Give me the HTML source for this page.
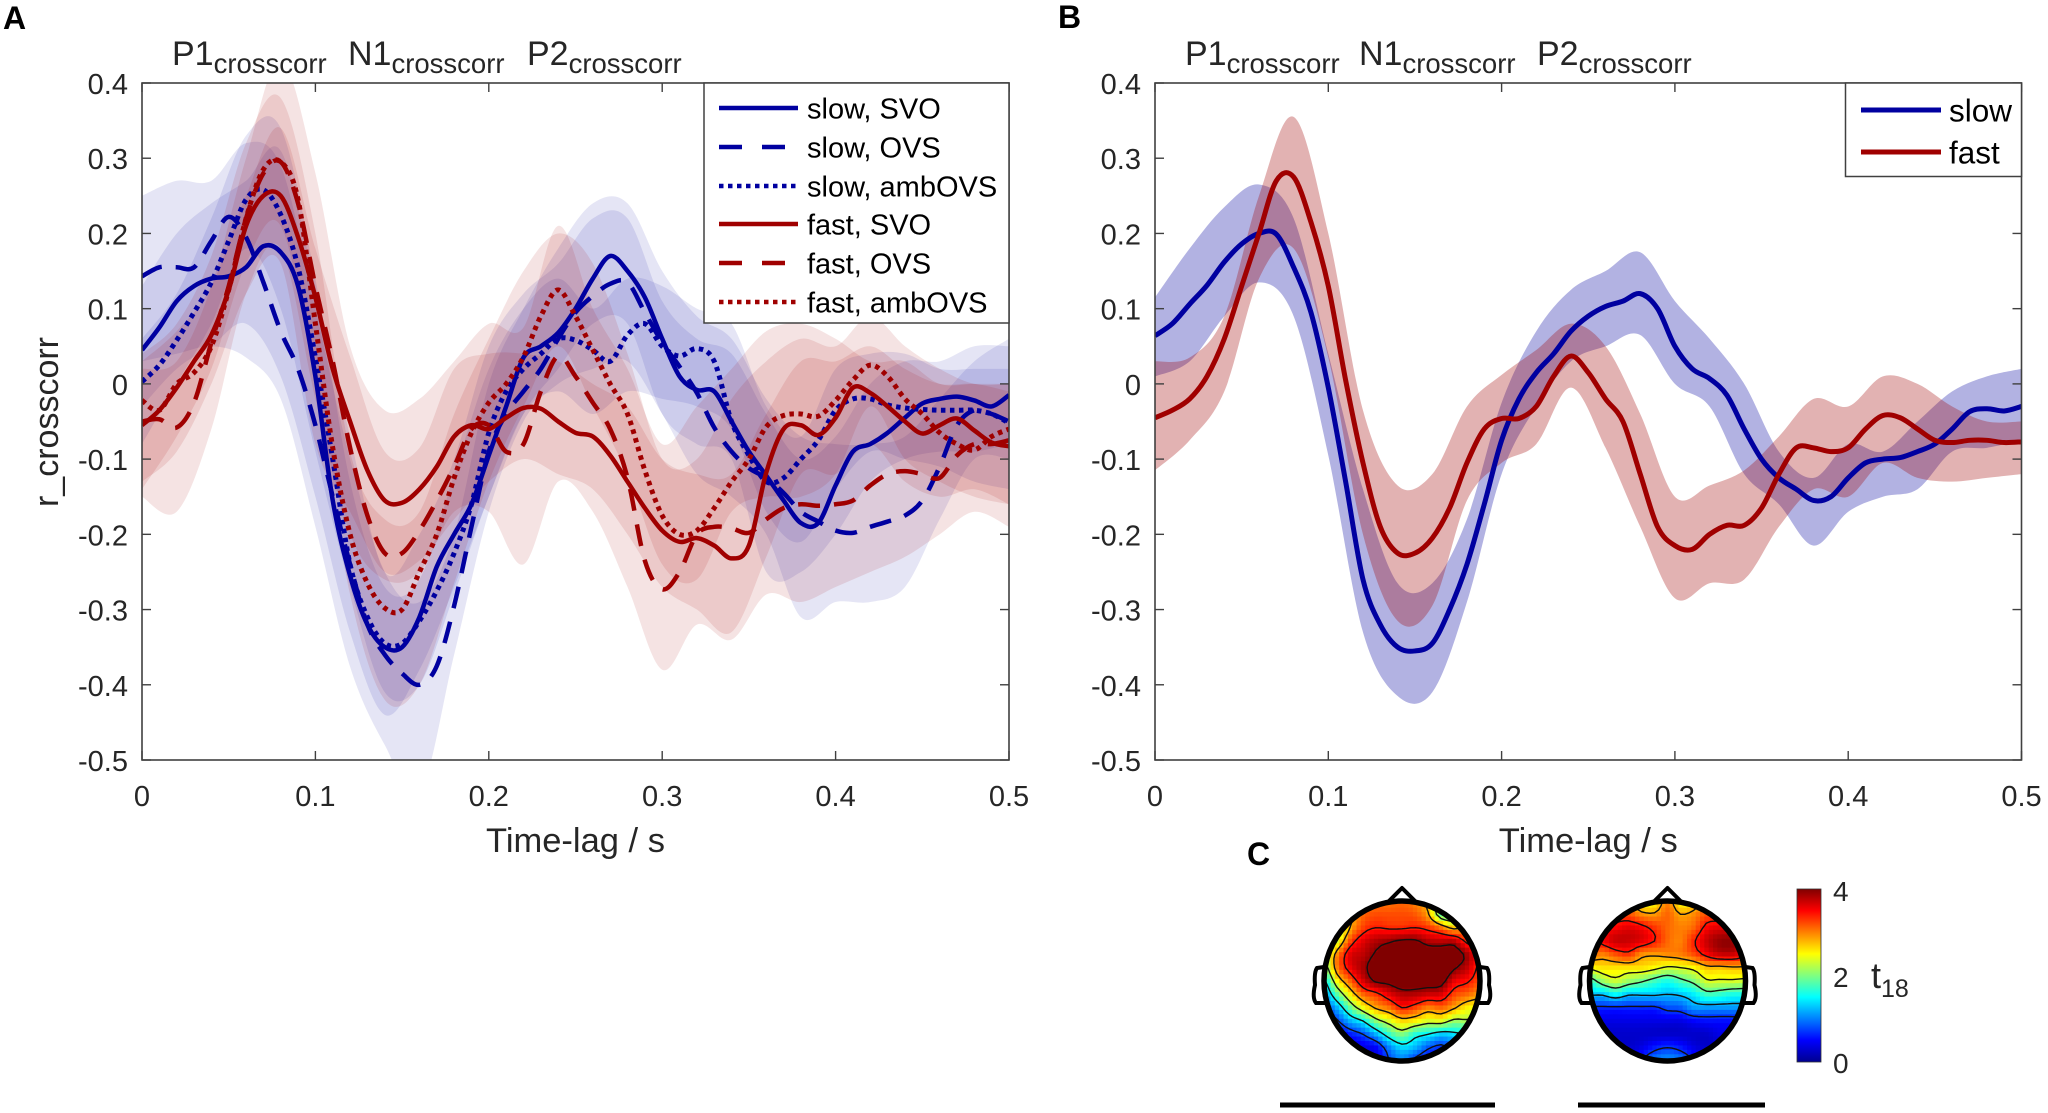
<!DOCTYPE html>
<html lang="en">
<head>
<meta charset="utf-8">
<title>Cross-correlation by speech rate and word order</title>
<style>
html,body{margin:0;padding:0;background:#fff;width:2048px;height:1113px;overflow:hidden}
svg{display:block}
text{font-family:"Liberation Sans",sans-serif;fill:#262626}
</style>
</head>
<body>
<svg id="figure" xmlns="http://www.w3.org/2000/svg" width="2048" height="1113" viewBox="0 0 2048 1113">
<defs>
<clipPath id="clipA"><rect x="142" y="83" width="867" height="677"/></clipPath>
<clipPath id="clipB"><rect x="1155" y="83" width="866.5" height="677"/></clipPath>
<clipPath id="clipHead1"><ellipse cx="1402" cy="981" rx="78" ry="80"/></clipPath>
<clipPath id="clipHead2"><ellipse cx="1667.5" cy="981" rx="78" ry="80"/></clipPath>
<linearGradient id="jet" x1="0" y1="1" x2="0" y2="0">
<stop offset="0" stop-color="#00008f"/><stop offset="0.125" stop-color="#0000ff"/><stop offset="0.375" stop-color="#00ffff"/><stop offset="0.625" stop-color="#ffff00"/><stop offset="0.875" stop-color="#ff0000"/><stop offset="1" stop-color="#800000"/>
</linearGradient>
</defs>
<text x="3" y="29" font-size="32" font-weight="bold" style="fill:#000">A</text>
<text x="1058" y="28" font-size="32" font-weight="bold" style="fill:#000">B</text>
<text x="1247" y="865" font-size="32" font-weight="bold" style="fill:#000">C</text>
<g id="panelA"></g>
<g id="panelB"></g>
<g id="panelC">
<g id="head1"></g>
<g id="head2"></g>
<rect x="1797" y="889" width="24" height="173" fill="url(#jet)" stroke="#333" stroke-width="0.8"/>
<text x="1833" y="901" font-size="28">4</text>
<text x="1833" y="987" font-size="28">2</text>
<text x="1833" y="1073" font-size="28">0</text>
<text x="1871" y="988" font-size="36">t<tspan font-size="25" dy="9">18</tspan></text>
<rect x="1280" y="1102.5" width="215" height="5" fill="#000"/>
<rect x="1578" y="1102.5" width="187" height="5" fill="#000"/>
</g>
</svg>
<script>
// Shared axis labels
const yTickValues = [0.4, 0.3, 0.2, 0.1, 0, -0.1, -0.2, -0.3, -0.4, -0.5];
const yTickLabels = ['0.4', '0.3', '0.2', '0.1', '0', '-0.1', '-0.2', '-0.3', '-0.4', '-0.5'];
const xTickValues = [0, 0.1, 0.2, 0.3, 0.4, 0.5];
const xTickLabels = ['0', '0.1', '0.2', '0.3', '0.4', '0.5'];
const lineLagStep = 0.01;
const bandLagStep = 0.02;

// Panel A means (one value every 10 ms)
const slowSvoMean = [.045,.075,.11,.13,.14,.143,.155,.183,.175,.13,.01,-.155,-.255,-.32,-.35,-.35,-.31,-.243,-.20,-.16,-.095,-.03,.035,.05,.068,.10,.14,.17,.15,.115,.06,.01,-.008,-.01,-.05,-.09,-.122,-.155,-.185,-.185,-.135,-.09,-.08,-.065,-.045,-.026,-.02,-.017,-.022,-.03,-.015];
const slowOvsMean = [.143,.155,.155,.155,.19,.222,.195,.135,.07,.02,-.055,-.15,-.24,-.32,-.36,-.385,-.40,-.375,-.295,-.19,-.09,-.04,-.01,.02,.06,.095,.117,.133,.135,.095,.055,.023,-.012,-.058,-.09,-.112,-.125,-.145,-.17,-.183,-.195,-.198,-.19,-.183,-.175,-.155,-.11,-.055,-.035,-.04,-.05];
const slowAmbMean = [.003,.025,.058,.095,.135,.19,.245,.258,.225,.155,.035,-.10,-.24,-.31,-.345,-.345,-.315,-.275,-.225,-.16,-.065,-.01,.02,.04,.06,.058,.045,.03,.065,.08,.05,.037,.047,.03,-.05,-.095,-.13,-.125,-.10,-.075,-.035,-.02,-.02,-.028,-.032,-.034,-.035,-.035,-.035,-.04,-.052];
const fastSvoMean = [-.055,-.035,-.005,.03,.065,.125,.21,.25,.25,.195,.115,.02,-.05,-.115,-.155,-.158,-.14,-.11,-.07,-.055,-.06,-.045,-.032,-.033,-.05,-.065,-.07,-.095,-.13,-.165,-.195,-.21,-.205,-.215,-.232,-.215,-.118,-.06,-.055,-.068,-.045,-.005,-.012,-.03,-.05,-.066,-.055,-.046,-.062,-.078,-.083];
const fastOvsMean = [-.05,-.047,-.058,-.025,.055,.13,.22,.28,.295,.24,.13,.03,-.085,-.175,-.225,-.225,-.195,-.155,-.11,-.06,-.055,-.09,-.08,-.01,.037,.01,-.025,-.06,-.125,-.235,-.273,-.25,-.20,-.19,-.192,-.198,-.18,-.165,-.16,-.162,-.16,-.155,-.135,-.12,-.116,-.12,-.125,-.095,-.08,-.08,-.075];
const fastAmbMean = [-.022,-.035,0,.015,.05,.125,.22,.285,.295,.245,.08,-.085,-.20,-.265,-.298,-.30,-.25,-.20,-.125,-.065,-.025,0,.036,.09,.125,.09,.045,0,-.04,-.115,-.175,-.20,-.195,-.165,-.13,-.10,-.057,-.042,-.04,-.043,-.022,.005,.025,.01,-.02,-.04,-.065,-.08,-.088,-.07,-.06];

// Panel A error bands (one value every 20 ms)
const slowSvoUpper = [.13,.2,.24,.27,.31,.13,-.07,-.25,-.2,-.1,.05,.12,.16,.22,.22,.11,.06,.04,-.04,-.10,-.07,0,.03,.03,.05,.05];
const slowSvoLower = [-.03,.02,.05,.08,.01,-.15,-.33,-.44,-.38,-.27,-.15,-.04,.02,.08,.08,-.04,-.08,-.10,-.25,-.25,-.2,-.13,-.1,-.09,-.09,-.08];
const slowOvsUpper = [.25,.27,.27,.32,.29,.1,-.1,-.25,-.29,-.2,0,.1,.18,.24,.24,.15,.09,.06,-.02,-.07,-.08,-.08,-.07,-.02,.03,.06];
const slowOvsLower = [.03,.04,.05,.035,-.02,-.19,-.376,-.48,-.545,-.36,-.17,-.05,0,.02,.03,-.04,-.12,-.15,-.2,-.31,-.29,-.29,-.27,-.18,-.1,-.1];
const slowAmbUpper = [.06,.12,.22,.33,.34,.14,-.13,-.27,-.26,-.12,.02,.1,.14,.1,.14,.13,.1,.08,-.03,-.07,.02,.04,.04,.02,.02,.02];
const slowAmbLower = [-.08,0,.08,.18,.1,-.09,-.27,-.41,-.40,-.28,-.15,-.04,-.01,-.04,-.01,-.02,-.03,-.06,-.17,-.21,-.14,-.09,-.1,-.11,-.13,-.14];
const fastSvoUpper = [.03,.07,.13,.25,.34,.18,.036,-.09,-.085,.02,.04,.04,.03,0,-.03,-.1,-.12,-.12,-.04,.03,.03,.05,.02,0,0,-.01];
const fastSvoLower = [-.13,-.09,0,.12,.16,-.08,-.17,-.25,-.235,-.18,-.13,-.1,-.12,-.14,-.2,-.27,-.3,-.33,-.23,-.12,-.12,-.08,-.13,-.15,-.14,-.16];
const fastOvsUpper = [.02,.03,.13,.3,.43,.28,.05,-.035,-.02,.03,.08,.075,.21,.1,.02,-.08,-.03,.02,.07,.08,.06,.03,.03,0,0,0];
const fastOvsLower = [-.15,-.17,-.06,.12,.18,-.02,-.2,-.26,-.25,-.17,-.17,-.24,-.13,-.17,-.27,-.38,-.32,-.34,-.28,-.29,-.27,-.25,-.23,-.2,-.17,-.19];
const fastAmbUpper = [.04,.08,.17,.32,.38,.2,-.09,-.18,-.17,-.04,.06,.15,.2,.16,.04,-.1,-.1,-.02,.03,.06,.05,.09,.05,.02,0,0];
const fastAmbLower = [-.14,-.07,.02,.16,.21,0,-.28,-.42,-.40,-.265,-.13,-.03,.05,-.03,-.12,-.24,-.26,-.17,-.15,-.15,-.12,-.03,-.1,-.13,-.15,-.16];

// Panel B means (one value every 10 ms)
const slowMean = [.064,.08,.106,.131,.162,.186,.20,.199,.155,.095,-.005,-.13,-.26,-.32,-.35,-.355,-.345,-.30,-.24,-.16,-.075,-.02,.015,.04,.07,.09,.103,.11,.12,.10,.05,.02,.007,-.015,-.06,-.10,-.125,-.14,-.155,-.15,-.125,-.105,-.10,-.098,-.09,-.08,-.06,-.037,-.033,-.036,-.03];
const fastMean = [-.045,-.035,-.02,.01,.06,.13,.20,.27,.275,.215,.13,.005,-.105,-.19,-.225,-.225,-.205,-.165,-.105,-.06,-.046,-.046,-.03,.01,.037,.015,-.02,-.05,-.12,-.19,-.215,-.22,-.20,-.188,-.188,-.165,-.12,-.085,-.085,-.09,-.085,-.06,-.042,-.045,-.06,-.075,-.078,-.075,-.075,-.078,-.077];

// Panel B error bands (one value every 20 ms)
const slowUpper = [.115,.18,.235,.265,.22,.04,-.14,-.265,-.265,-.18,-.025,.07,.125,.15,.175,.11,.06,0,-.09,-.125,-.08,-.09,-.05,-.01,.01,.02];
const slowLower = [.01,.03,.09,.135,.09,-.095,-.33,-.415,-.41,-.29,-.12,-.03,.03,.05,.065,0,-.03,-.12,-.16,-.215,-.17,-.15,-.14,-.09,-.085,-.075];
const fastUpper = [.03,.035,.09,.25,.355,.2,-.035,-.135,-.12,-.03,.012,.045,.08,.05,-.04,-.15,-.135,-.115,-.07,-.02,-.03,.01,0,-.03,-.05,-.05];
const fastLower = [-.115,-.075,-.01,.14,.18,.035,-.2,-.315,-.295,-.155,-.105,-.08,-.005,-.085,-.19,-.285,-.265,-.26,-.19,-.14,-.15,-.105,-.125,-.13,-.125,-.12];

// Panel A / B legend labels
const legendLabelsA = ['slow, SVO', 'slow, OVS', 'slow, ambOVS', 'fast, SVO', 'fast, OVS', 'fast, ambOVS'];
const legendLabelsB = ['slow', 'fast'];

// Panel C: scalp t-values sampled on a regular 13 x 13 grid
const topoSlow = [
[1.5,1.8,2.9,3.0,3.05,3.05,3.1,3.0,2.7,1.8,1.6,1.8,2],
[1.5,1.8,2.7,3.1,3.2,3.2,3.2,3.15,2.85,1.9,1.7,2.0,2.2],
[1.6,2.0,2.8,3.25,3.4,3.35,3.35,3.4,3.3,3.05,2.7,2.9,2.8],
[1.8,2.35,3.2,3.6,3.8,3.9,4.0,4.0,3.8,3.75,3.75,3.3,3.1],
[2.1,2.95,3.6,3.75,4.0,4.2,4.3,4.3,4.2,4.2,4.15,3.85,3.4],
[1.95,3.0,3.55,3.85,4.15,4.3,4.4,4.4,4.35,4.3,4.0,3.75,3.3],
[1.4,2.5,3.1,3.65,4.0,4.05,4.2,4.15,4.15,4.1,3.6,3.45,3.2],
[1.1,1.85,2.55,3.1,3.3,3.6,3.8,3.8,3.7,3.65,3.25,3.1,2.9],
[.8,1.2,1.9,2.45,2.85,3.05,3.4,3.25,3.0,3.1,2.85,2.55,2.5],
[.5,.75,1.2,1.5,2.05,2.35,2.65,2.55,2.35,2.4,2.1,2.15,2.0],
[.3,.4,.6,.8,1.2,1.7,2.0,1.65,1.5,1.3,1.4,1.5,1.6],
[.2,.2,.3,.4,.5,1.0,1.35,1.2,.85,.7,.9,1.1,1.2],
[.2,.2,.2,.3,.4,.8,1.0,.7,.5,.5,.7,.9,1]
];
const topoFast = [
[3,3,3,3,2.5,2.5,3.0,2.5,2.6,3,3,3,3],
[3,3,3.2,3.2,2.95,2.9,3.1,2.85,2.95,3.2,3.2,3.1,3.1],
[3.2,3.4,3.5,3.6,3.5,3.3,3.1,3.0,3.1,3.5,3.6,3.6,3.4],
[3.3,3.5,3.7,3.7,3.6,3.4,3.1,3.0,3.35,3.7,3.9,3.9,3.5],
[3.1,3.0,3.2,3.3,2.95,2.9,2.95,3.0,3.2,3.5,3.7,3.7,3.5],
[2.5,2.6,2.6,2.6,2.6,2.5,2.35,2.4,2.5,2.75,2.75,2.8,2.8],
[1.7,2.1,2.3,2.1,1.95,1.75,1.6,1.8,2.0,2.35,2.35,2.35,2.3],
[1.3,1.3,1.5,1.3,1.3,1.3,1.25,1.3,1.45,1.75,1.7,1.6,1.6],
[.65,.65,.65,.65,.65,.65,.8,.85,1.1,1.1,1.1,1.1,1.1],
[.45,.4,.4,.4,.4,.4,.4,.4,.5,.55,.55,.55,.6],
[.3,.3,.3,.3,.3,.3,.3,.3,.3,.3,.4,.4,.5],
[.3,.3,.3,.3,.4,.6,.7,.6,.4,.3,.3,.3,.3],
[.3,.3,.3,.4,.7,1,1.1,1,.7,.4,.3,.3,.3]
];
const contourLevelsSlow = [0.8, 1.5, 2.2, 2.8, 3.4, 3.95];
const contourLevelsFast = [0.7, 1.25, 1.9, 2.4, 2.85, 3.4];

const SVGNS = 'http://www.w3.org/2000/svg';
const BLUE = '#0000a0';
const RED = '#a00000';
const DASH = '22 14';
const DOT = '4.5 4.5';

function make(parent, tag, attrs, text) {
  const el = document.createElementNS(SVGNS, tag);
  for (const k in attrs) el.setAttribute(k, attrs[k]);
  if (text !== undefined) el.textContent = text;
  parent.appendChild(el);
  return el;
}
function axisFns(left, right) {
  const top = 83, bottom = 760;
  return {
    left: left, right: right, top: top, bottom: bottom,
    x: function (t) { return left + (right - left) * t / 0.5; },
    y: function (v) { return top + (bottom - top) * (0.4 - v) / 0.9; }
  };
}
function smoothPath(pts, start) {
  let d = (start || 'M') + pts[0][0].toFixed(2) + ' ' + pts[0][1].toFixed(2);
  for (let i = 0; i < pts.length - 1; i++) {
    const p0 = pts[Math.max(i - 1, 0)], p1 = pts[i], p2 = pts[i + 1], p3 = pts[Math.min(i + 2, pts.length - 1)];
    const c1x = p1[0] + (p2[0] - p0[0]) / 6, c1y = p1[1] + (p2[1] - p0[1]) / 6;
    const c2x = p2[0] - (p3[0] - p1[0]) / 6, c2y = p2[1] - (p3[1] - p1[1]) / 6;
    d += 'C' + c1x.toFixed(2) + ' ' + c1y.toFixed(2) + ' ' + c2x.toFixed(2) + ' ' + c2y.toFixed(2) + ' ' + p2[0].toFixed(2) + ' ' + p2[1].toFixed(2);
  }
  return d;
}
function toPoints(values, step, ax) {
  return values.map(function (v, i) { return [ax.x(i * step), ax.y(v)]; });
}
function drawBand(parent, upper, lower, color, alpha, ax, name) {
  const up = toPoints(upper, bandLagStep, ax);
  const lo = toPoints(lower, bandLagStep, ax).reverse();
  const el = make(parent, 'path', { d: smoothPath(up) + smoothPath(lo, 'L') + 'Z', fill: color, 'fill-opacity': alpha, stroke: 'none' });
  
  
}
function drawLine(parent, values, color, width, dash, ax, name) {
  const attrs = { d: smoothPath(toPoints(values, lineLagStep, ax)), fill: 'none', stroke: color, 'stroke-width': width, 'stroke-linejoin': 'round' };
  if (dash) attrs['stroke-dasharray'] = dash;
  const el = make(parent, 'path', attrs);
  
  
}
function drawAxes(parent, ax, showYTitle, titleX) {
  const g = make(parent, 'g', {});
  
  
  const frame = make(g, 'rect', { x: ax.left, y: ax.top, width: ax.right - ax.left, height: ax.bottom - ax.top, fill: 'none', stroke: '#404040', 'stroke-width': 1.6 });
  
  
  xTickValues.forEach(function (v, i) {
    const x = ax.x(v);
    const t1 = make(g, 'line', { x1: x, x2: x, y1: ax.bottom, y2: ax.bottom - 9, stroke: '#404040', 'stroke-width': 1.4 });
    
    
    const t2 = make(g, 'line', { x1: x, x2: x, y1: ax.top, y2: ax.top + 9, stroke: '#404040', 'stroke-width': 1.4 });
    
    
    const lab = make(g, 'text', { x: x, y: 806, 'font-size': 29, 'text-anchor': 'middle' }, xTickLabels[i]);
    
    
  });
  yTickValues.forEach(function (v, i) {
    const y = ax.y(v);
    const t1 = make(g, 'line', { x1: ax.left, x2: ax.left + 9, y1: y, y2: y, stroke: '#404040', 'stroke-width': 1.4 });
    
    
    const t2 = make(g, 'line', { x1: ax.right, x2: ax.right - 9, y1: y, y2: y, stroke: '#404040', 'stroke-width': 1.4 });
    
    
    const lab = make(g, 'text', { x: ax.left - 14, y: y + 11, 'font-size': 29, 'text-anchor': 'end' }, yTickLabels[i]);
    
    
  });
  const xt = make(g, 'text', { x: (ax.left + ax.right) / 2, y: 852, 'font-size': 34.5, 'text-anchor': 'middle' }, 'Time-lag / s');
  
  
  if (showYTitle) {
    const yt = make(g, 'text', { x: 0, y: 0, 'font-size': 34, 'text-anchor': 'middle', transform: 'translate(58 422) rotate(-90)' }, 'r_crosscorr');
    
    
  }
  ['P1', 'N1', 'P2'].forEach(function (c, i) {
    const tx = make(g, 'text', { x: titleX[i], y: 65, 'font-size': 34 }, c);
    
    
    const sub = make(tx, 'tspan', { dy: 8, 'font-size': 27.5 }, 'crosscorr');
    
    
  });
}
function drawLegend(parent, box, rowsY, sampleX, textX, labels, colors, dashes, fontSize, width) {
  const g = make(parent, 'g', {});
  
  
  const bg = make(g, 'rect', { x: box[0], y: box[1], width: box[2], height: box[3], fill: '#fff', stroke: '#404040', 'stroke-width': 1.5 });
  
  
  labels.forEach(function (label, i) {
    const attrs = { x1: sampleX[0], x2: sampleX[1], y1: rowsY[i], y2: rowsY[i], stroke: colors[i], 'stroke-width': width };
    if (dashes[i]) attrs['stroke-dasharray'] = dashes[i];
    const ln = make(g, 'line', attrs);
    
    
    const tx = make(g, 'text', { x: textX, y: rowsY[i] + fontSize * 0.36, 'font-size': fontSize, style: 'fill:#000' }, label);
    
    
  });
}

// Panel A
(function () {
  const root = document.getElementById('panelA');
  const ax = axisFns(142, 1009);
  const plot = make(root, 'g', { 'clip-path': 'url(#clipA)' });
  
  
  drawBand(plot, slowOvsUpper, slowOvsLower, BLUE, 0.1, ax, 'band-slow-ovs');
  drawBand(plot, slowSvoUpper, slowSvoLower, BLUE, 0.1, ax, 'band-slow-svo');
  drawBand(plot, slowAmbUpper, slowAmbLower, BLUE, 0.1, ax, 'band-slow-ambovs');
  drawBand(plot, fastOvsUpper, fastOvsLower, RED, 0.11, ax, 'band-fast-ovs');
  drawBand(plot, fastSvoUpper, fastSvoLower, RED, 0.11, ax, 'band-fast-svo');
  drawBand(plot, fastAmbUpper, fastAmbLower, RED, 0.11, ax, 'band-fast-ambovs');
  drawLine(plot, slowOvsMean, BLUE, 4.5, DASH, ax, 'line-slow-ovs');
  drawLine(plot, slowAmbMean, BLUE, 5, DOT, ax, 'line-slow-ambovs');
  drawLine(plot, slowSvoMean, BLUE, 4.5, null, ax, 'line-slow-svo');
  drawLine(plot, fastOvsMean, RED, 4.5, DASH, ax, 'line-fast-ovs');
  drawLine(plot, fastAmbMean, RED, 5, DOT, ax, 'line-fast-ambovs');
  drawLine(plot, fastSvoMean, RED, 4.5, null, ax, 'line-fast-svo');
  drawAxes(root, ax, true, [172, 348, 527]);
  drawLegend(root, [704, 83, 305, 240], [108, 147, 186, 224, 263, 302], [719, 798], 807, legendLabelsA,
    [BLUE, BLUE, BLUE, RED, RED, RED], [null, '23 20', DOT, null, '23 20', DOT], 29, 4.5);
})();

// Panel B
(function () {
  const root = document.getElementById('panelB');
  const ax = axisFns(1155, 2021.5);
  const plot = make(root, 'g', { 'clip-path': 'url(#clipB)' });
  
  
  drawBand(plot, slowUpper, slowLower, BLUE, 0.3, ax, 'band-slow');
  drawBand(plot, fastUpper, fastLower, RED, 0.3, ax, 'band-fast');
  drawLine(plot, slowMean, BLUE, 5, null, ax, 'line-slow');
  drawLine(plot, fastMean, RED, 5, null, ax, 'line-fast');
  drawAxes(root, ax, false, [1185, 1359, 1537]);
  drawLegend(root, [1845.5, 83, 176, 93.5], [110, 152], [1861, 1941], 1949, legendLabelsB,
    [BLUE, RED], [null, null], 31.5, 5);
})();

// Panel C
function cubic(a, b, c, d, t) {
  return b + 0.5 * t * (c - a + t * (2 * a - 5 * b + 4 * c - d + t * (3 * (b - c) + d - a)));
}
function sampleGrid(grid, r, c) {
  const n = grid.length - 1;
  const cl = function (i) { return Math.max(0, Math.min(n, i)); };
  const r0 = Math.min(Math.floor(r), n), c0 = Math.min(Math.floor(c), n);
  const fr = r - r0, fc = c - c0;
  const rows = [-1, 0, 1, 2].map(function (dr) {
    const row = grid[cl(r0 + dr)];
    return cubic(row[cl(c0 - 1)], row[cl(c0)], row[cl(c0 + 1)], row[cl(c0 + 2)], fc);
  });
  return cubic(rows[0], rows[1], rows[2], rows[3], fr);
}
function jetColor(t) {
  const v = Math.max(0, Math.min(1, t / 4));
  const f = function (o) { return Math.round(255 * Math.max(0, Math.min(1, 1.5 - Math.abs(4 * v - o)))); };
  return 'rgb(' + f(3) + ',' + f(2) + ',' + f(1) + ')';
}
function drawHead(id, grid, levels, cx, clipId) {
  const root = document.getElementById(id);
  const rx = 78, ry = 80, cy = 981;
  const sub = 3, n = (grid.length - 1) * sub;
  const px = function (j) { return cx - rx + 2 * rx * j / n; };
  const py = function (i) { return cy - ry + 2 * ry * i / n; };
  const field = [];
  for (let i = 0; i <= n; i++) {
    const row = [];
    for (let j = 0; j <= n; j++) row.push(sampleGrid(grid, i / sub, j / sub));
    field.push(row);
  }
  const map = make(root, 'g', { 'clip-path': 'url(#' + clipId + ')' });
  
  
  const cw = 2 * rx / n, ch = 2 * ry / n;
  for (let i = 0; i <= n; i++) {
    for (let j = 0; j <= n; j++) {
      const cell = make(map, 'rect', { x: (px(j) - cw / 2).toFixed(2), y: (py(i) - ch / 2).toFixed(2), width: (cw + 0.6).toFixed(2), height: (ch + 0.6).toFixed(2), fill: jetColor(field[i][j]) });
      
      
    }
  }
  levels.forEach(function (lv) {
    let d = '';
    for (let i = 0; i < n; i++) {
      for (let j = 0; j < n; j++) {
        const a = field[i][j], b = field[i][j + 1], c = field[i + 1][j + 1], e = field[i + 1][j];
        const pts = [];
        if ((a < lv) !== (b < lv)) pts.push([px(j + (lv - a) / (b - a)), py(i)]);
        if ((b < lv) !== (c < lv)) pts.push([px(j + 1), py(i + (lv - b) / (c - b))]);
        if ((e < lv) !== (c < lv)) pts.push([px(j + (lv - e) / (c - e)), py(i + 1)]);
        if ((a < lv) !== (e < lv)) pts.push([px(j), py(i + (lv - a) / (e - a))]);
        for (let k = 0; k + 1 < pts.length; k += 2) {
          d += 'M' + pts[k][0].toFixed(1) + ' ' + pts[k][1].toFixed(1) + 'L' + pts[k + 1][0].toFixed(1) + ' ' + pts[k + 1][1].toFixed(1);
        }
      }
    }
    const path = make(map, 'path', { d: d, fill: 'none', stroke: '#111', 'stroke-width': 1.4, 'stroke-linecap': 'round' });
    
    
  });
  const outline = make(root, 'ellipse', { cx: cx, cy: cy, rx: rx, ry: ry, fill: 'none', stroke: '#000', 'stroke-width': 5.5 });
  
  
  const nose = make(root, 'path', { d: 'M' + (cx - 15) + ' 903L' + cx + ' 888L' + (cx + 15) + ' 903', fill: 'none', stroke: '#000', 'stroke-width': 4, 'stroke-linejoin': 'round' });
  
  
  const earL = make(root, 'path', { d: 'M' + (cx - rx) + ' 967L' + (cx - rx - 7) + ' 968Q' + (cx - rx - 10) + ' 972 ' + (cx - rx - 9) + ' 985Q' + (cx - rx - 12) + ' 998 ' + (cx - rx - 8) + ' 1003L' + (cx - rx + 3) + ' 1003', fill: 'none', stroke: '#000', 'stroke-width': 4 });
  
  
  const earR = make(root, 'path', { d: 'M' + (cx + rx) + ' 967L' + (cx + rx + 7) + ' 968Q' + (cx + rx + 10) + ' 972 ' + (cx + rx + 9) + ' 985Q' + (cx + rx + 12) + ' 998 ' + (cx + rx + 8) + ' 1003L' + (cx + rx - 3) + ' 1003', fill: 'none', stroke: '#000', 'stroke-width': 4 });
  
  
}
drawHead('head1', topoSlow, contourLevelsSlow, 1402, 'clipHead1');
drawHead('head2', topoFast, contourLevelsFast, 1667.5, 'clipHead2');
</script>
</body>
</html>
